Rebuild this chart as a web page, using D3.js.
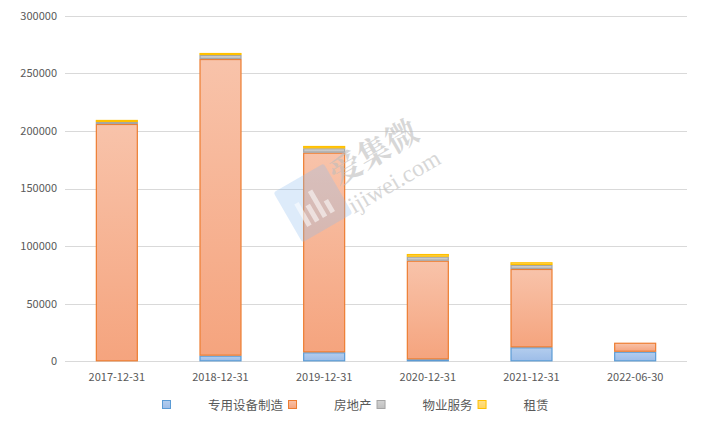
<!DOCTYPE html>
<html>
<head>
<meta charset="utf-8">
<script src="https://cdn.jsdelivr.net/npm/d3@7"></script>
<style>
  body { margin: 0; background: #fff; }
  svg text { font-family: "Noto Sans CJK SC", "Noto Sans", sans-serif; fill: #595959; }
</style>
</head>
<body>
<div id="chart"></div>
<script>
// categories and series values
const dates = ["2017-12-31", "2018-12-31", "2019-12-31", "2020-12-31", "2021-12-31", "2022-06-30"];
const segments = ["专用设备制造", "房地产", "物业服务", "租赁"];
const equipment = [0, 4900, 7800, 1700, 12150, 8300];
const realEstate = [206000, 257500, 173300, 85600, 68000, 7800];
const property = [1800, 3500, 3800, 3500, 3500, 0];
const leasing = [1700, 1700, 2000, 2300, 2300, 0];
const yTicks = [0, 50000, 100000, 150000, 200000, 250000, 300000];

const width = 706, height = 430;
const margin = { top: 15.7, right: 19, bottom: 68.7, left: 65 };

// fill gradient (top, bottom) and border colour per series
const colors = [
    { top: "#b3cdee", bottom: "#9dbde8", stroke: "#5b9bd5" },
    { top: "#f8c3aa", bottom: "#f5a47e", stroke: "#ed7d31" },
    { top: "#d2d2d2", bottom: "#bfbfbf", stroke: "#a5a5a5" },
    { top: "#ffe08a", bottom: "#ffd45e", stroke: "#ffc000" }
];

const table = dates.map((d, i) => ({
    date: d,
    [segments[0]]: equipment[i],
    [segments[1]]: realEstate[i],
    [segments[2]]: property[i],
    [segments[3]]: leasing[i]
}));

const svg = d3.select("#chart").append("svg")
    .attr("width", width)
    .attr("height", height);

const defs = svg.append("defs");
colors.forEach((c, i) => {
    const g = defs.append("linearGradient")
        .attr("id", "grad" + i)
        .attr("x1", 0).attr("y1", 0).attr("x2", 0).attr("y2", 1);
    g.append("stop").attr("offset", "0%").attr("stop-color", c.top);
    g.append("stop").attr("offset", "100%").attr("stop-color", c.bottom);
});

const x = d3.scaleBand()
    .domain(dates)
    .range([margin.left, width - margin.right])
    .paddingInner(0.595)
    .paddingOuter(0.2975);

const y = d3.scaleLinear()
    .domain([0, 300000])
    .range([height - margin.bottom, margin.top]);

// gridlines
svg.append("g")
    .selectAll("line")
    .data(yTicks)
    .join("line")
    .attr("x1", margin.left)
    .attr("x2", width - margin.right)
    .attr("y1", d => Math.round(y(d)) + 0.5)
    .attr("y2", d => Math.round(y(d)) + 0.5)
    .attr("stroke", "#d9d9d9")
    .attr("stroke-width", 1);

// y labels
svg.append("g")
    .selectAll("text")
    .data(yTicks)
    .join("text")
    .attr("x", margin.left - 8)
    .attr("y", d => y(d))
    .attr("dy", "0.35em")
    .attr("text-anchor", "end")
    .style("font-size", "11px")
    .text(d => d);

// stacked bars
const stacked = d3.stack().keys(segments)(table);

const layers = svg.append("g")
    .selectAll("g")
    .data(stacked)
    .join("g")
    .attr("fill", (d, i) => `url(#grad${i})`)
    .attr("stroke", (d, i) => colors[i].stroke);

layers.selectAll("rect")
    .data(d => d.filter(s => s[1] - s[0] > 0))
    .join("rect")
    .attr("x", d => x(d.data.date) + 0.5)
    .attr("y", d => y(d[1]) + 0.5)
    .attr("width", x.bandwidth() - 1)
    .attr("height", d => Math.max(0, y(d[0]) - y(d[1]) - 1))
    .attr("stroke-width", 1.2);

// watermark, drawn over the bars
const wm = svg.append("g")
    .attr("transform", "translate(313,203) rotate(-30)");
wm.append("rect")
    .attr("x", -29).attr("y", -29)
    .attr("width", 58).attr("height", 58)
    .attr("rx", 3)
    .attr("fill", "#8fbcf0")
    .attr("opacity", 0.3);
[[-17, -8, 26], [-8, -1, 19], [1, -12, 30], [10, 4, 14]].forEach(([bx, by, bh]) => {
    wm.append("rect")
        .attr("x", bx).attr("y", by)
        .attr("width", 5).attr("height", bh)
        .attr("fill", "#fff")
        .attr("opacity", 0.55);
});
svg.append("text")
    .attr("transform", "translate(338,186) rotate(-30)")
    .style("font-family", "'Noto Serif CJK SC', 'DejaVu Serif', serif")
    .style("font-size", "32px")
    .style("font-weight", "bold")
    .style("fill", "#bdbdbd")
    .style("fill-opacity", 0.6)
    .text("爱集微");
svg.append("text")
    .attr("transform", "translate(354,214) rotate(-30)")
    .style("font-family", "'Liberation Serif', serif")
    .style("font-size", "24px")
    .style("fill", "#bdbdbd")
    .style("fill-opacity", 0.6)
    .text("ijiwei.com");

// x labels
svg.append("g")
    .selectAll("text")
    .data(dates)
    .join("text")
    .attr("x", d => x(d) + x.bandwidth() / 2)
    .attr("y", height - margin.bottom + 16)
    .attr("dy", "0.35em")
    .attr("text-anchor", "middle")
    .style("font-size", "11px")
    .text(d => d);

// legend: swatch, wide gap, label
const legend = svg.append("g");
let lx = 162;
segments.forEach((s, i) => {
    legend.append("rect")
        .attr("x", lx + 0.5).attr("y", 400.5)
        .attr("width", 8).attr("height", 8)
        .attr("fill", `url(#grad${i})`)
        .attr("stroke", colors[i].stroke);
    const t = legend.append("text")
        .attr("x", lx + 46)
        .attr("y", 405.5)
        .attr("dy", "0.35em")
        .style("font-size", "12.5px")
        .text(s);
    lx += 46 + t.node().getComputedTextLength() + 5;
});
</script>
</body>
</html>
